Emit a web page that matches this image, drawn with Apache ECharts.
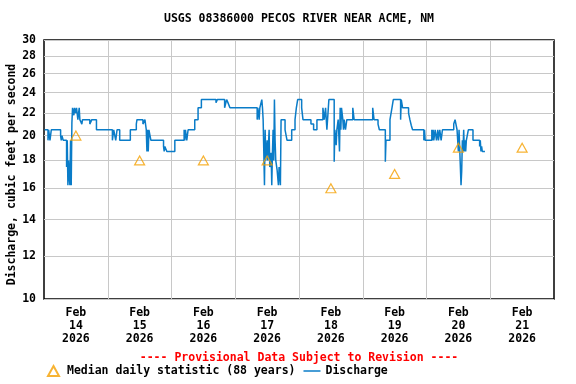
<!DOCTYPE html>
<html><head><meta charset="utf-8">
<script src="https://cdn.jsdelivr.net/npm/echarts@6/dist/echarts.min.js"></script>
<style>html,body{margin:0;padding:0;background:#fff}#c{width:576px;height:384px}</style>
</head><body><div id="c"></div>
<script>
const FONT = 'DejaVu Sans Mono';
const titleText = 'USGS 08386000 PECOS RIVER NEAR ACME, NM';
const provisionalText = '---- Provisional Data Subject to Revision ----';
const yAxisTitle = 'Discharge, cubic feet per second';
const yTicks = [10, 12, 14, 16, 18, 20, 22, 24, 26, 28, 30];
// x values: hours since 2026-02-14 00:00
const xMin = -12, xMax = 180;
const dayLabelHours = [0, 24, 48, 72, 96, 120, 144, 168];
const dayLabels = ['Feb\n14\n2026', 'Feb\n15\n2026', 'Feb\n16\n2026', 'Feb\n17\n2026', 'Feb\n18\n2026', 'Feb\n19\n2026', 'Feb\n20\n2026', 'Feb\n21\n2026'];
const gridHours = [12, 36, 60, 84, 108, 132, 156];
const medianName = 'Median daily statistic (88 years)';
const medianHours = [0, 24, 48, 72, 96, 120, 144, 168];
const medianCfs = [20, 18, 18, 18, 16, 17, 19, 19];
const dischargeName = 'Discharge';
const dischargeHours = [
  -11.75,-10.5,-10.25,-9.75,-9.25,-5.75,-5.5,-5.25,-4.75,-3.5,
  -3.25,-3,-2.75,-2.5,-2.25,-2,-1.75,-1.5,-1.25,-0.75,
  -0.5,0,0.25,0.75,1.25,1.5,2.25,2.5,5.25,6,
  7.75,13.75,14.25,15,15.5,16.5,20.5,22.75,23,25.25,
  26,26.5,26.75,27,27.25,27.5,28.25,33,33.25,33.5,
  34.25,37.25,40.75,41,41.25,41.75,42.25,44.75,46,47.25,
  52.75,53.25,56,56.75,57.25,58,68.25,68.5,69,
  69.25,70,70.25,70.5,71,71.25,71.5,72,72.25,72.75,
  73,73.5,73.75,74,74.25,74.5,74.75,75,75.25,75.75,
  76.25,76.5,77,77.25,78.75,79.5,81.25,82.5,83,83.5,
  85,85.5,88.5,89.5,90.75,93,93.5,94,94.5,95.25,
  97.25,97.5,98,98.25,98.75,99.25,99.5,99.75,100,100.5,
  100.75,101,101.5,102,104.25,104.75,111.75,112.25,113.75,114.25,
  116.5,116.75,118.25,119,119.5,122.25,122.5,123,125.25,125.75,
  126.25,126.75,131,131.25,131.5,134,134.25,134.5,134.75,135.25,
  135.75,136.25,136.5,137,137.5,138,142.25,142.75,143.5,144,
  144.25,144.75,145,145.25,145.5,145.75,146,146.25,146.5,146.75,
  147,147.75,149.5,152,152.25,152.5,152.75,153,154
];
const dischargeCfs = [
  20.5,19.6,20.5,19.6,20.5,20.0,19.6,20.0,19.6,17.5,
  19.6,16.2,18.0,16.8,16.2,19.6,16.2,21.1,22.5,21.8,
  22.5,22.0,22.5,21.4,22.5,21.4,21.0,21.4,21.0,21.4,
  20.5,19.6,20.5,19.6,20.5,19.6,20.5,21.0,21.4,21.0,
  21.4,20.5,18.7,20.5,18.7,20.5,19.6,19.1,18.7,19.1,
  18.7,19.6,20.5,19.6,20.5,19.6,20.5,21.4,22.5,23.3,
  23.0,23.3,22.5,23.3,23.0,22.5,21.4,22.5,21.4,
  22.5,23.3,22.5,21.4,16.2,20.5,18.0,19.6,18.0,20.5,
  17.5,18.6,16.2,18.6,20.5,18.0,23.3,19.6,18.0,17.3,
  16.2,17.5,16.2,21.4,20.5,19.6,20.5,21.4,22.5,23.3,
  22.5,21.4,21.0,20.5,21.4,22.5,21.4,22.5,20.5,23.3,
  17.9,20.5,19.2,20.5,21.4,18.7,22.5,20.5,22.5,21.4,
  20.5,21.4,20.5,21.4,22.5,21.4,22.5,21.4,21.0,20.5,
  17.9,19.6,21.4,22.5,23.3,21.4,23.3,22.5,22.0,21.4,
  20.9,20.5,19.6,20.5,19.6,20.5,19.6,20.5,19.6,20.5,
  19.6,20.5,19.6,20.5,19.6,20.5,21.0,21.4,20.5,18.7,
  20.5,17.5,16.2,17.2,19.6,18.7,20.5,18.7,19.6,18.7,
  19.6,20.5,19.6,19.1,19.6,18.7,19.1,18.7,18.7
];

const lg = v => Math.log10(v);
const txt = { fontFamily: FONT, fontWeight: 'bold', fontSize: 11.5, color: '#000' };
const chart = echarts.init(document.getElementById('c'), null, { renderer: 'canvas' });
chart.setOption({
  animation: false,
  backgroundColor: '#fff',
  title: [
    { text: titleText, left: 299, top: 13, textAlign: 'center', padding: 0, textStyle: txt },
    { text: provisionalText, left: 299, top: 352, textAlign: 'center', padding: 0, textStyle: Object.assign({}, txt, { color: '#ff0000' }) }
  ],
  legend: {
    left: 47, top: 365, padding: 0, itemGap: 8, itemWidth: 17, itemHeight: 10,
    textStyle: txt,
    data: [
      { name: medianName, icon: 'path://M5.5,0L11,10L0,10Z' },
      { name: dischargeName, icon: 'path://M0,4H17V5.5H0Z' }
    ]
  },
  grid: { left: 44, right: 22, top: 40, bottom: 85, show: true, borderColor: '#000', borderWidth: 1.5, containLabel: false, outerBoundsMode: 'none' },
  xAxis: {
    type: 'value', min: xMin, max: xMax,
    axisLine: { show: false },
    axisTick: { show: false, customValues: gridHours },
    splitLine: { show: true, lineStyle: { color: '#c8c8c8', width: 1 } },
    axisLabel: {
      customValues: dayLabelHours, margin: 8, lineHeight: 13,
      fontFamily: FONT, fontWeight: 'bold', fontSize: 11.5, color: '#000',
      formatter: v => { const i = dayLabelHours.indexOf(Math.round(v)); return i >= 0 ? dayLabels[i] : ''; }
    }
  },
  yAxis: {
    type: 'value', min: lg(10), max: lg(30),
    name: yAxisTitle, nameLocation: 'middle', nameGap: 26, nameMoveOverlap: false,
    nameTextStyle: Object.assign({}, txt, { padding: [0, 10, 0, 0] }),
    axisLine: { show: false },
    axisTick: { show: false, customValues: yTicks.map(lg) },
    splitLine: { show: true, lineStyle: { color: '#c8c8c8', width: 1 } },
    axisLabel: {
      customValues: yTicks.map(lg), margin: 8,
      fontFamily: FONT, fontWeight: 'bold', fontSize: 11.5, color: '#000',
      formatter: v => String(Math.round(Math.pow(10, v)))
    }
  },
  series: [
    {
      name: medianName, type: 'scatter',
      symbol: 'triangle', symbolSize: [10, 9],
      itemStyle: { color: 'rgba(255,255,255,0)', borderColor: '#f5a000', borderWidth: 1.2 },
      data: medianHours.map((h, i) => [h, lg(medianCfs[i])]),
      z: 3
    },
    {
      name: dischargeName, type: 'line', step: 'end',
      symbol: 'none', showSymbol: false,
      lineStyle: { color: '#0a7cc8', width: 1.5 },
      itemStyle: { color: '#0a7cc8' },
      data: dischargeHours.map((h, i) => [h, lg(dischargeCfs[i])]),
      z: 2
    }
  ]
});
</script></body></html>
